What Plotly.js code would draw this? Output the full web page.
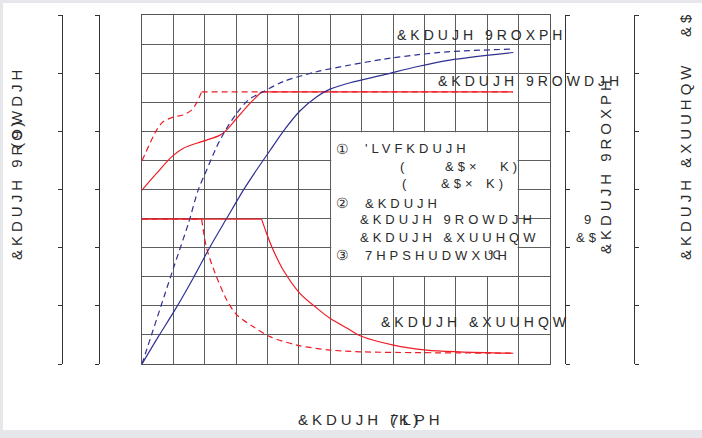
<!DOCTYPE html>
<html>
<head>
<meta charset="utf-8">
<script src="https://cdn.plot.ly/plotly-3.0.1.min.js"></script>
<style>
  html, body { margin: 0; padding: 0; background: #e6e7ea; }
  #chart { position: absolute; left: 3px; top: 3px; width: 699px; height: 427px; background: #fff; }
  .annotation-text { letter-spacing: 4px; }
</style>
</head>
<body>
<div id="chart"></div>
<script>
// ==================== DATA (grid units: 13 columns x 12 rows) ====================

// charge voltage, solid (red)
const voltSolidX = [0, 0.47, 0.95, 1.32, 1.74, 2.06, 2.49, 2.70, 3.02, 3.44, 3.81, 11.82];
const voltSolidY = [5.98, 6.56, 7.13, 7.42, 7.59, 7.70, 7.87, 8.05, 8.45, 8.96, 9.36, 9.36];

// charge voltage, dashed (red)
const voltDashX = [0, 0.47, 0.67, 0.99, 1.31, 1.58, 1.74, 1.90, 3.81, 11.82];
const voltDashY = [6.99, 8.05, 8.33, 8.49, 8.56, 8.73, 8.98, 9.36, 9.36, 9.36];

// charge volume, solid (blue)
const volSolidX = [0, 0.52, 1.05, 1.63, 2.17, 2.70, 3.23, 3.65, 4.18, 4.50, 5.03, 5.57, 5.99, 6.63, 7.69, 8.75, 9.81, 11.83];
const volSolidY = [0, 0.94, 1.86, 2.95, 4.03, 5.01, 5.98, 6.67, 7.50, 8.00, 8.70, 9.19, 9.45, 9.67, 9.94, 10.22, 10.45, 10.71];

// charge volume, dashed (blue)
const volDashX = [0, 1.00, 1.48, 1.79, 2.06, 2.38, 2.70, 3.02, 3.39, 3.86, 4.50, 5.57, 6.63, 7.69, 8.75, 9.81, 11.82];
const volDashY = [0, 3.29, 4.84, 5.98, 6.67, 7.47, 8.11, 8.62, 9.08, 9.36, 9.71, 10.05, 10.28, 10.48, 10.63, 10.74, 10.83];

// charge current, solid (red)
const currSolidX = [0, 3.81, 3.97, 4.18, 4.50, 5.03, 5.57, 5.99, 6.63, 6.95, 8.01, 9.07, 10.13, 11.83];
const currSolidY = [4.98, 4.98, 4.49, 3.92, 3.23, 2.43, 1.92, 1.57, 1.17, 0.97, 0.65, 0.48, 0.42, 0.37];

// charge current, dashed (red)
const currDashX = [0, 1.90, 2.06, 2.33, 2.70, 3.02, 3.55, 4.08, 4.93, 5.99, 6.95, 11.83];
const currDashY = [4.98, 4.98, 3.98, 3.12, 2.20, 1.69, 1.28, 0.94, 0.65, 0.48, 0.42, 0.37];

const RED = '#ee1c25';
const BLUE = '#2e3192';
const TXT = '#2b2b2b';
const FONT = 'Liberation Sans, Arial, sans-serif';

// page pixel -> paper fraction (chart div sits at 3,3 and is 699x427)
const X = p => (p - 3) / 699;
const Y = p => 1 - (p - 3) / 427;

function line(x, y, color, dash, shape) {
  return {
    type: 'scatter', mode: 'lines', x: x, y: y,
    line: { color: color, width: 1.2, dash: dash ? '6px,4px' : 'solid', shape: shape || 'linear', smoothing: 0.8 },
    hoverinfo: 'skip', showlegend: false
  };
}

// a curve with a sharp knee: straight part + smooth part, split at index k
function kneed(x, y, k, color, dash, flatFirst) {
  if (flatFirst) {
    return [line(x.slice(0, k + 1), y.slice(0, k + 1), color, dash),
            line(x.slice(k), y.slice(k), color, dash, 'spline')];
  }
  return [line(x.slice(0, k + 1), y.slice(0, k + 1), color, dash, 'spline'),
          line(x.slice(k), y.slice(k), color, dash)];
}

function emptyOn(axis) {
  return { type: 'scatter', x: [], y: [], yaxis: axis, showlegend: false, hoverinfo: 'skip' };
}

function lab(text, x, y, size, opts) {
  return Object.assign({
    text: text, xref: 'paper', yref: 'paper', x: X(x), y: Y(y),
    xanchor: 'left', yanchor: 'middle', showarrow: false,
    font: { family: FONT, size: size, color: TXT }
  }, opts || {});
}

function rot(text, x, y, size) {
  return lab(text, x, y, size, { xanchor: 'center', textangle: -90 });
}

// ==================== PLOT ====================

const data = [].concat(
  kneed(currSolidX, currSolidY, 1, RED, false, true),
  kneed(currDashX, currDashY, 1, RED, true, true),
  kneed(voltSolidX, voltSolidY, 10, RED, false, false),
  kneed(voltDashX, voltDashY, 7, RED, true, false),
  [line(volSolidX, volSolidY, BLUE, false, 'spline'),
   line(volDashX, volDashY, BLUE, true, 'spline'),
   emptyOn('y2'), emptyOn('y3'), emptyOn('y4'), emptyOn('y5')]
);

function sideAxis(pos, side) {
  return {
    overlaying: 'y', anchor: 'free', position: X(pos), side: side,
    range: [0, 12], tick0: 0, dtick: 2, ticks: 'outside', ticklen: 4,
    tickcolor: '#333', showticklabels: false, showgrid: false, zeroline: false,
    showline: true, linecolor: '#333', linewidth: 1, fixedrange: true
  };
}

const annotations = [
  lab('&KDUJH 9ROXPH', 395, 35, 14),
  lab('&KDUJH 9ROWDJH', 436, 81, 14),
  lab('&KDUJH &XUUHQW', 379, 322, 14),

  lab('\u2460', 334, 149, 14),
  lab("'LVFKDUJH", 363, 149, 13),
  lab('(', 398, 166, 13), lab('&$\u00d7', 443, 166, 13), lab('K)', 498, 166, 13),
  lab('(', 400, 183, 13), lab('&$\u00d7', 439, 183, 13), lab('K)', 484, 183, 13),
  lab('\u2461', 334, 203, 14),
  lab('&KDUJH', 363, 203, 13),
  lab('&KDUJH 9ROWDJH', 358, 219, 13), lab('9', 582, 219, 13),
  lab('&KDUJH &XUUHQW', 358, 237, 13), lab('&$', 574, 237, 13),
  lab('\u2462', 334, 255, 14),
  lab('7HPSHUDWXUH', 363, 255, 13), lab('\u2103', 486, 255, 12),

  rot('&KDUJH 9ROWDJH', 16, 163, 15),
  rot('(9)', 16, 133, 15),
  rot('&KDUJH 9ROXPH', 605, 165, 15),
  rot('&KDUJH &XUUHQW   &$', 685, 136, 15),
  lab('&KDUJH 7LPH', 371, 419, 15, { xanchor: 'center' }),
  lab('(K)', 406, 419, 15, { xanchor: 'center' })
];

const layout = {
  width: 699, height: 427,
  margin: { l: 0, r: 0, t: 0, b: 0 },
  paper_bgcolor: '#ffffff', plot_bgcolor: '#ffffff',
  showlegend: false,
  xaxis: {
    domain: [X(142), X(550)], range: [0, 13], tick0: 0, dtick: 1,
    showgrid: true, gridcolor: '#5e5e5e', gridwidth: 1,
    showline: true, mirror: true, linecolor: '#555', linewidth: 1,
    ticks: '', showticklabels: false, zeroline: false, fixedrange: true
  },
  yaxis: {
    domain: [Y(364), Y(15)], range: [0, 12], tick0: 0, dtick: 1,
    showgrid: true, gridcolor: '#5e5e5e', gridwidth: 1,
    showline: true, mirror: true, linecolor: '#555', linewidth: 1,
    ticks: '', showticklabels: false, zeroline: false, fixedrange: true
  },
  yaxis2: sideAxis(62, 'left'),
  yaxis3: sideAxis(99, 'left'),
  yaxis4: sideAxis(565, 'right'),
  yaxis5: sideAxis(634, 'right'),
  shapes: [{
    type: 'rect', xref: 'x', yref: 'y', x0: 6.03, x1: 11.97, y0: 3.03, y1: 7.97,
    fillcolor: '#ffffff', line: { width: 0 }, layer: 'above'
  }],
  annotations: annotations
};

Plotly.newPlot('chart', data, layout, { staticPlot: true });
</script>
</body>
</html>
